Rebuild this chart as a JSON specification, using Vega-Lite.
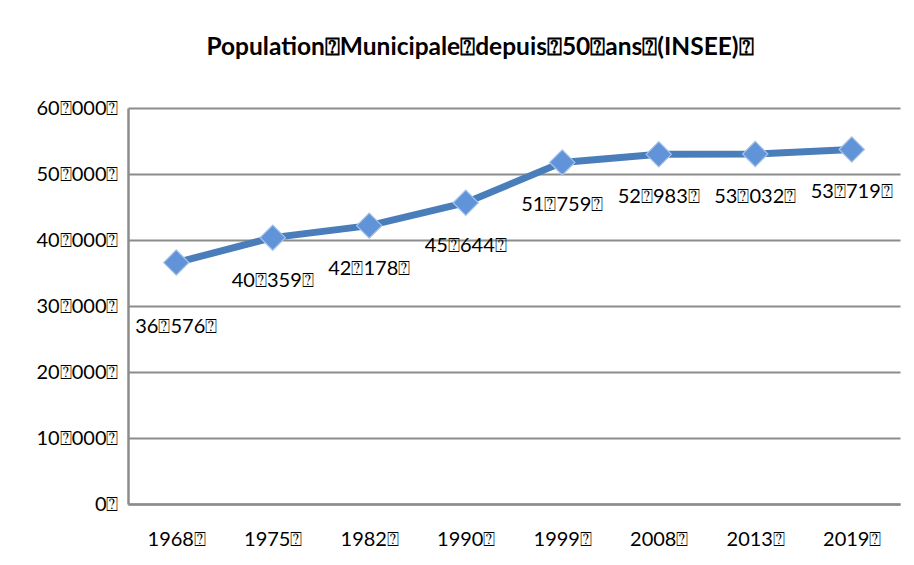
{
  "$schema": "https://vega.github.io/schema/vega-lite/v6.json",
  "autosize": {"type": "none"},
  "width": 772,
  "height": 396,
  "padding": {"left": 128, "top": 108, "right": 14, "bottom": 61},
  "background": "white",
  "title": {
    "text": "Population⍰Municipale⍰depuis⍰50⍰ans⍰(INSEE)⍰",
    "font": "Lato",
    "fontSize": 24.5,
    "fontWeight": "bold",
    "color": "black",
    "anchor": "middle",
    "dx": -34,
    "offset": 38
  },
  "data": {
    "values": [
      {"year": "1968", "population": 36576},
      {"year": "1975", "population": 40359},
      {"year": "1982", "population": 42178},
      {"year": "1990", "population": 45644},
      {"year": "1999", "population": 51759},
      {"year": "2008", "population": 52983},
      {"year": "2013", "population": 53032},
      {"year": "2019", "population": 53719}
    ]
  },
  "transform": [
    {"calculate": "replace(format(datum.population, ','), ',', '⍰') + '⍰'", "as": "label"}
  ],
  "encoding": {
    "x": {
      "field": "year", "type": "ordinal",
      "scale": {"paddingInner": 0, "paddingOuter": 0, "align": 0.5},
      "axis": {
        "title": null, "labelAngle": 0, "labelFont": "Lato", "labelFontSize": 20,
        "labelColor": "black", "ticks": false, "labelPadding": 25,
        "domainColor": "#8c8c8c", "domainWidth": 2.5, "grid": false,
        "labelExpr": "datum.label + '⍰'"
      }
    },
    "y": {
      "field": "population", "type": "quantitative",
      "scale": {"domain": [0, 60000], "nice": false},
      "axis": {
        "title": null, "values": [0, 10000, 20000, 30000, 40000, 50000, 60000],
        "labelOverlap": false,
        "labelFont": "Lato", "labelFontSize": 20, "labelColor": "black",
        "ticks": false, "labelPadding": 10, "domainColor": "#8c8c8c", "domainWidth": 2.5,
        "gridColor": "#8c8c8c", "gridWidth": 2,
        "labelExpr": "replace(format(datum.value, ','), ',', '⍰') + '⍰'"
      }
    }
  },
  "layer": [
    {"mark": {"type": "line", "color": "#4a7ebb", "strokeWidth": 7}},
    {"mark": {"type": "point", "shape": "diamond", "filled": true, "size": 640, "color": "#6193d8", "stroke": "#a5c3ec", "strokeWidth": 1.2, "opacity": 1}},
    {
      "transform": [{"filter": "datum.year != '1968'"}],
      "mark": {"type": "text", "font": "Lato", "fontSize": 20, "color": "black", "dy": 43, "baseline": "middle"},
      "encoding": {"text": {"field": "label"}}
    },
    {
      "transform": [{"filter": "datum.year == '1968'"}],
      "mark": {"type": "text", "font": "Lato", "fontSize": 20, "color": "black", "dy": 64, "baseline": "middle"},
      "encoding": {"text": {"field": "label"}}
    }
  ],
  "config": {"view": {"stroke": null}}
}
